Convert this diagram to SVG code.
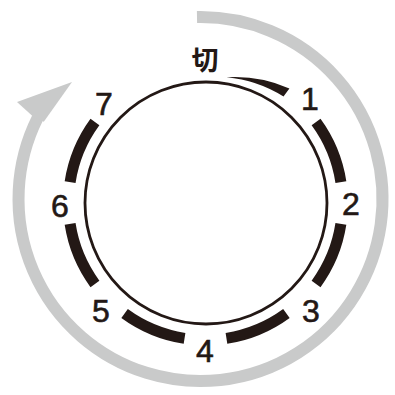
<svg xmlns="http://www.w3.org/2000/svg" width="395" height="395" viewBox="0 0 395 395">
<style>
.seg{fill:none;stroke:#231815;stroke-width:11;stroke-linecap:butt}
.num{font-family:"Liberation Sans",Arial,sans-serif;font-size:32px;fill:#231815;stroke:#231815;stroke-width:0.6;text-anchor:middle}
.cjk{font-family:"Noto Sans CJK JP","Noto Sans CJK SC",sans-serif;font-size:27px;font-weight:bold;fill:#231815;text-anchor:middle}
</style>
<rect width="395" height="395" fill="#ffffff"/>
<g id="rotation-arrow">
<path d="M197,17.07 A182,182 0 1 1 37.6,117.9" fill="none" stroke="#c9caca" stroke-width="12"/>
<polygon points="43.8,121.8 72,82 17,102 33,116.6" fill="#c9caca"/>
</g>
<g id="dial">
<circle cx="206" cy="203" r="121" fill="#ffffff" stroke="#231815" stroke-width="2.8"/>
</g>
<g id="connectors">
<path d="M226.5,77.25 A135,135 0 0 1 289.4,88.4 L283.5,96.5 A130,130 0 0 0 226.5,77.25 Z" fill="#231815"/>
<path class="seg" d="M316.06,122.09 A137,137 0 0 1 340.89,182.04"/>
<path class="seg" d="M340.89,223.96 A137,137 0 0 1 316.06,283.91"/>
<path class="seg" d="M286.41,313.56 A137,137 0 0 1 226.46,338.39"/>
<path class="seg" d="M184.54,338.39 A137,137 0 0 1 124.59,313.56"/>
<path class="seg" d="M94.94,283.91 A137,137 0 0 1 70.11,223.96"/>
<path class="seg" d="M70.11,182.04 A137,137 0 0 1 94.94,122.09"/>
</g>
<g id="label-off"><text class="cjk" x="205" y="70">切</text></g>
<g id="label-1"><text class="num" x="310" y="110">1</text></g>
<g id="label-2"><text class="num" x="351" y="215">2</text></g>
<g id="label-3"><text class="num" x="311" y="322">3</text></g>
<g id="label-4"><text class="num" x="205" y="362">4</text></g>
<g id="label-5"><text class="num" x="101" y="322">5</text></g>
<g id="label-6"><text class="num" x="60" y="217">6</text></g>
<g id="label-7"><text class="num" x="104" y="115">7</text></g>
</svg>
